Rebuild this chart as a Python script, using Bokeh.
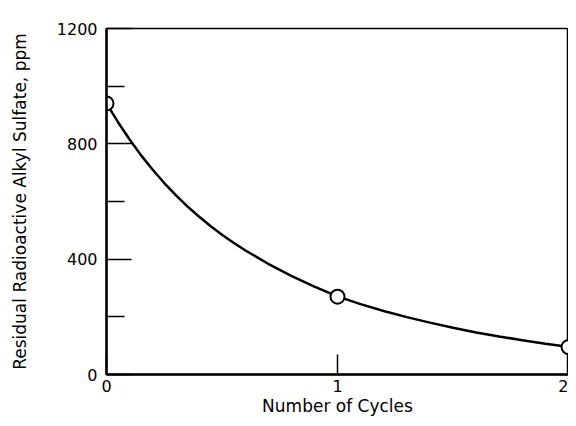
from bokeh.plotting import figure
from bokeh.models import FixedTicker, Range1d
from bokeh.embed import file_html
from bokeh.resources import INLINE

# measured points
cycles = [0, 1, 2]
residual = [940, 270, 95]

# smooth curve
curve_x = [0, 0.05, 0.1, 0.15, 0.2, 0.25, 0.3, 0.35, 0.4, 0.45, 0.5, 0.55, 0.6, 0.7, 0.8, 0.9,
           1.0, 1.1, 1.2, 1.3, 1.4, 1.5, 1.6, 1.7, 1.8, 1.9, 2.0]
curve_y = [940, 875, 815, 760, 710, 664, 622, 583, 548, 515, 485, 457, 431, 384, 342, 305,
           271, 244, 220, 199, 180, 162, 146, 132, 119, 107, 96]

y_major = [0, 400, 800, 1200]
y_minor = [200, 600, 1000]
x_major = [0, 1, 2]

FONT = "DejaVu Sans"

p = figure(width=568, height=418, output_backend="svg", toolbar_location=None,
           x_range=Range1d(0, 2), y_range=Range1d(0, 1200),
           min_border_left=106, min_border_right=0, min_border_top=28, min_border_bottom=41)

p.grid.visible = False
p.background_fill_color = "white"
p.border_fill_color = "white"
p.outline_line_color = "black"
p.outline_line_width = 1.5

p.yaxis.ticker = FixedTicker(ticks=y_major, minor_ticks=y_minor)
p.xaxis.ticker = FixedTicker(ticks=x_major, minor_ticks=[])

for ax in (p.xaxis[0], p.yaxis[0]):
    ax.axis_line_width = 2.5
    ax.axis_line_color = "black"
    ax.major_tick_out = 0
    ax.minor_tick_out = 0
    ax.major_tick_line_width = 1.5
    ax.minor_tick_line_width = 1.5
    ax.major_label_text_font = FONT
    ax.major_label_text_font_size = "16px"
    ax.major_label_text_color = "black"
    ax.axis_label_text_font = FONT
    ax.axis_label_text_font_style = "normal"
    ax.axis_label_text_color = "black"
    ax.axis_label_text_font_size = "17px"

p.yaxis.major_tick_in = 25
p.yaxis.minor_tick_in = 18
p.xaxis.major_tick_in = 20
p.xaxis.minor_tick_in = 0
p.yaxis.major_label_standoff = 9
p.xaxis.major_label_standoff = 5

p.xaxis.axis_label = "Number of Cycles"
p.xaxis.axis_label_standoff = 1
p.yaxis.axis_label = "Residual Radioactive Alkyl Sulfate, ppm"
p.yaxis.axis_label_standoff = 24

p.line(curve_x, curve_y, line_color="black", line_width=2.5)
p.scatter(cycles, residual, size=14, fill_color="white", line_color="black", line_width=2)

open("out.html", "w").write(file_html(p, INLINE))
